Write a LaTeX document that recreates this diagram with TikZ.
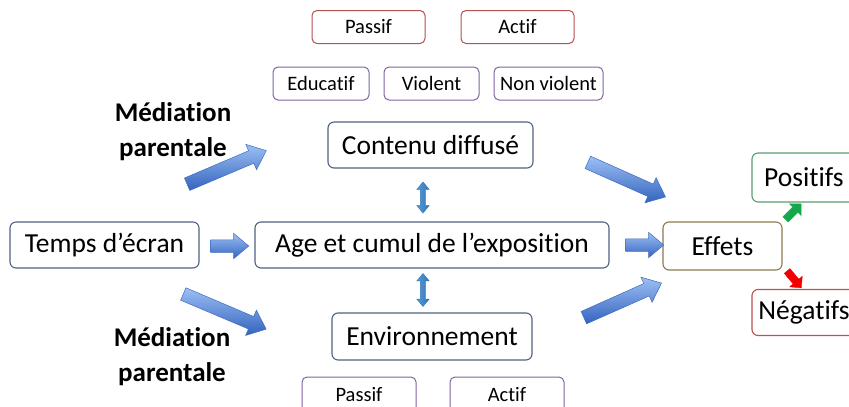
\documentclass[tikz,border=0pt]{standalone}
\usepackage{fontspec}
\setmainfont{Carlito}[Ligatures={NoCommon}]
\usetikzlibrary{shapes.arrows}
\definecolor{boxblue}{HTML}{4F6182}
\definecolor{boxred}{HTML}{B5504E}
\definecolor{boxpurple}{HTML}{8064A2}
\definecolor{boxolive}{HTML}{8C7A4E}
\definecolor{boxgreen}{HTML}{5A9E6F}
\definecolor{boxneg}{HTML}{C0504D}
\definecolor{arrlight}{HTML}{9CC0F4}
\definecolor{arrmid}{HTML}{4F88E2}
\definecolor{arrdark}{HTML}{3363BE}
\definecolor{arredge}{HTML}{3F6CC0}
\definecolor{dbl}{HTML}{2E75B6}
\definecolor{dbllight}{HTML}{5B9BD5}
\definecolor{posarrow}{HTML}{14A84A}
\definecolor{negarrow}{HTML}{F00000}
\tikzset{
  bigbox/.style={draw=boxblue, line width=1.1pt, rounded corners=6pt, fill=white, font=\fontsize{27.5}{30}\selectfont, inner sep=0pt},
  smallbox/.style={draw=#1, line width=1pt, rounded corners=5pt, fill=white, font=\fontsize{20.5}{24}\selectfont, inner sep=0pt, minimum height=33pt},
  fatarrow/.style={single arrow, draw=arredge, line width=0.5pt, top color=arrlight, middle color=arrmid, bottom color=arrdark, inner xsep=0pt, inner ysep=6.5pt, single arrow head extend=7pt, single arrow tip angle=80},
  vdouble/.style={double arrow, draw=dbl, line width=0.4pt, left color=dbllight, right color=dbl, inner xsep=0pt, inner ysep=2.5pt, double arrow head extend=3.5pt, double arrow tip angle=80, rotate=90},
  smallarrow/.style={single arrow, draw=#1, fill=#1, inner xsep=0pt, inner ysep=3.5pt, single arrow head extend=4.5pt, single arrow tip angle=90},
  medtext/.style={font=\fontsize{27}{35}\selectfont\bfseries, align=center, inner sep=0pt}
}
\begin{document}
\begin{tikzpicture}[x=1pt,y=-1pt]
\useasboundingbox (0,0) rectangle (849,407);
% top boxes
\node[smallbox=boxred, minimum width=113pt] (passifT) at (368.5,27) {Passif};
\node[smallbox=boxred, minimum width=113pt] (actifT) at (517.5,27) {Actif};
\node[smallbox=boxpurple, minimum width=96pt] (educ) at (321,83.5) {Educatif};
\node[smallbox=boxpurple, minimum width=95pt] (viol) at (431.5,83.5) {Violent};
\node[smallbox=boxpurple, minimum width=109pt] (nonviol) at (548.5,83.5) {Non violent};
% main boxes
\node[bigbox, minimum width=205pt, minimum height=46pt] (contenu) at (430.5,145) {Contenu diffusé};
\node[bigbox, minimum width=189pt, minimum height=46pt] (temps) at (104.5,245) {Temps d’écran};
\node[bigbox, minimum width=354pt, minimum height=46pt] (age) at (432,245) {Age et cumul de l’exposition};
\node[bigbox, draw=boxolive, minimum width=119pt, minimum height=48pt] (effets) at (722.5,246) {Effets};
\node[bigbox, draw=boxgreen, minimum width=104pt, minimum height=49pt] (pos) at (804,177.5) {Positifs};
\node[bigbox, draw=boxneg, minimum width=104pt, minimum height=46pt] (neg) at (804,312.5) {Négatifs};
\node[bigbox, minimum width=200pt, minimum height=47pt] (env) at (432,336.5) {Environnement};
% bottom boxes
\node[smallbox=boxpurple, minimum width=114pt, minimum height=36pt] (passifB) at (359,395) {Passif};
\node[smallbox=boxpurple, minimum width=114pt, minimum height=36pt] (actifB) at (507,395) {Actif};
% mediation labels
\node[medtext] (medT) at (173,132) {Médiation\\parentale};
\node[medtext] (medB) at (172,357) {Médiation\\parentale};
% fat arrows
\node[fatarrow, minimum height=86pt, rotate=23] (aTL) at (223,169) {};
\node[fatarrow, minimum height=90pt, rotate=-23] (aBL) at (221,310) {};
\node[fatarrow, minimum height=85pt, rotate=-24] (aTR) at (623,178) {};
\node[fatarrow, minimum height=85pt, rotate=24] (aBR) at (619,302) {};
\node[fatarrow, minimum height=38pt, inner ysep=6pt, single arrow head extend=6.5pt] (aTA) at (226,246) {};
\node[fatarrow, minimum height=38pt, inner ysep=6pt, single arrow head extend=6.5pt] (aAE) at (641,245) {};
% vertical double arrows
\node[vdouble, minimum height=31pt] (dTop) at (423,197.5) {};
\node[vdouble, minimum height=33pt] (dBot) at (423,290) {};
% small colored arrows
\node[smallarrow=posarrow, minimum height=22pt, rotate=45] (gArr) at (792,213) {};
\node[smallarrow=negarrow, minimum height=22pt, rotate=-50] (rArr) at (793,278) {};
\end{tikzpicture}
\end{document}
